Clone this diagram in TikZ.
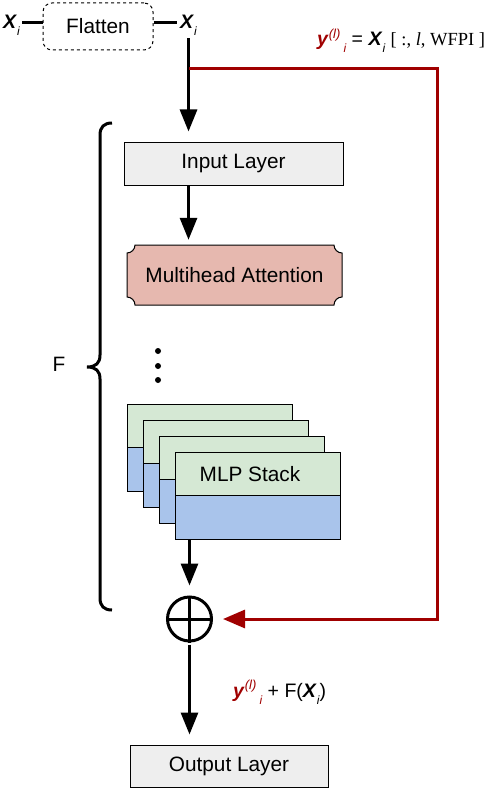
\documentclass[tikz,border=0pt]{standalone}
\usepackage{fontspec}
\setmainfont{Liberation Sans}
\newfontfamily\timesf{Liberation Serif}
\usetikzlibrary{arrows.meta,backgrounds}
\definecolor{dred}{RGB}{160,0,0}
\definecolor{boxgray}{RGB}{238,238,238}
\definecolor{attnfill}{RGB}{230,184,175}
\definecolor{mlpgreen}{RGB}{213,232,212}
\definecolor{mlpblue}{RGB}{169,196,235}
\newcommand{\subi}{\raisebox{-7pt}[0pt][0pt]{\fontsize{12}{12}\selectfont\itshape i}}
\newcommand{\supl}{\raisebox{7.5pt}[0pt][0pt]{\fontsize{13}{12}\selectfont\itshape (l)}}
\newcommand{\bX}{\textbf{\textit{X}}}
\newcommand{\by}{\textbf{\textit{y}}}
\begin{document}
\begin{tikzpicture}[x=1pt,y=-1pt,
  every node/.style={font=\fontsize{20.8}{25}\selectfont},
  arr/.style={line width=3pt,-{Triangle[length=22pt,width=17pt]}},
  redarr/.style={line width=3pt,draw=dred,-{Triangle[length=22pt,width=18pt]}},
  conn/.style={line width=3pt},
  layerbox/.style={draw,line width=1pt,fill=boxgray,inner sep=0pt},
  lbl/.style={font=\fontsize{19.5}{22}\selectfont,inner sep=0pt,anchor=base west},
  mlpbox/.style={draw,line width=1pt}]
\useasboundingbox (0,0) rectangle (489,789);

% top: X_i -- Flatten -- X_i
\node[lbl] (xin) at (3,29) {\bX\subi};
\node[draw,dashed,dash pattern=on 3pt off 3pt,line width=1pt,rounded corners=9pt,
      minimum width=110pt,minimum height=47pt,inner sep=0pt] (flat) at (98,26.5) {Flatten};
\node[lbl] (xout) at (180,29) {\bX\subi};
\draw[conn] (xin.east) ++(2,0) -- (xin.east -| flat.west);
\draw[conn] (flat.east |- xout.west) -- ([xshift=-3pt]xout.west);

% top formula
\node[lbl] (ylab) at (317,46) {{\color{dred}\by\supl\,\subi} = \bX\subi\ {\timesf\fontsize{18.5}{22}\selectfont[ :, \textit{l}, WFPI ]}};

% boxes
\node[layerbox,minimum width=219pt,minimum height=43pt] (inp) at (233.5,163.5) {Input Layer};
\node[inner sep=0pt,minimum width=215pt,minimum height=60pt] (attn) at (234.5,275) {Multihead Attention};
\begin{scope}[on background layer]
\draw[line width=1pt,fill=attnfill]
  (135,245) -- (334,245) .. controls (334,249.4) and (337.6,253) .. (342,253)
  -- (342,297) .. controls (337.6,297) and (334,300.6) .. (334,305)
  -- (135,305) .. controls (135,300.6) and (131.4,297) .. (127,297)
  -- (127,253) .. controls (131.4,253) and (135,249.4) .. (135,245) -- cycle;
\end{scope}

% dots
\fill (158,351) circle (3) (158,366) circle (3) (158,380) circle (3);

% MLP stack
\foreach \k in {0,1,2,3}{
  \pgfmathsetmacro{\xa}{127+16*\k}
  \pgfmathsetmacro{\ya}{404+16*\k}
  \filldraw[mlpbox,fill=mlpgreen] (\xa,\ya) rectangle ++(165,43);
  \filldraw[mlpbox,fill=mlpblue] (\xa,\ya+43) rectangle ++(165,44);
}
\node[inner sep=0pt,minimum width=165pt,minimum height=87pt] (mlp) at (257.5,495.5) {};
\node (mlptext) at (250,474) {MLP Stack};

% add node
\node[circle,draw,line width=3pt,minimum size=44pt,inner sep=0pt] (add) at (189.5,619) {};
\draw[line width=3pt] (add.north) -- (add.south) (add.west) -- (add.east);

% output layer
\node[layerbox,minimum width=198pt,minimum height=42pt] (outl) at (229,766) {Output Layer};

% arrows
\draw[arr,shorten <=9pt,shorten >=10pt] (xout.south) -- (xout.south |- inp.north);
\draw[arr,shorten >=5pt] (xout.south |- inp.south) -- (xout.south |- attn.north);
\draw[arr,shorten >=10pt] (add.north |- mlp.south) -- (add.north);
\draw[arr,shorten <=2pt,shorten >=10pt] (add.south) -- (add.south |- outl.north);

% red skip connection
\coordinate (rs) at (189,69);
\coordinate (rc) at (437,69);
\draw[redarr,shorten >=10pt] (rs) -- (rc) |- (add.east);

% bottom formula
\node[lbl] (sumlab) at (233,697) {{\color{dred}\by\supl\,\subi} + F(\bX\subi)};

% brace and F
\draw[line width=3pt]
  (112,123) .. controls (104,123) and (100,127) .. (100,135) -- (100,355)
  .. controls (100,363) and (96,367) .. (87,367)
  .. controls (96,367) and (100,371) .. (100,379) -- (100,598)
  .. controls (100,606) and (104,610) .. (112,610);
\node (flab) at (59,364) {F};
\end{tikzpicture}
\end{document}
